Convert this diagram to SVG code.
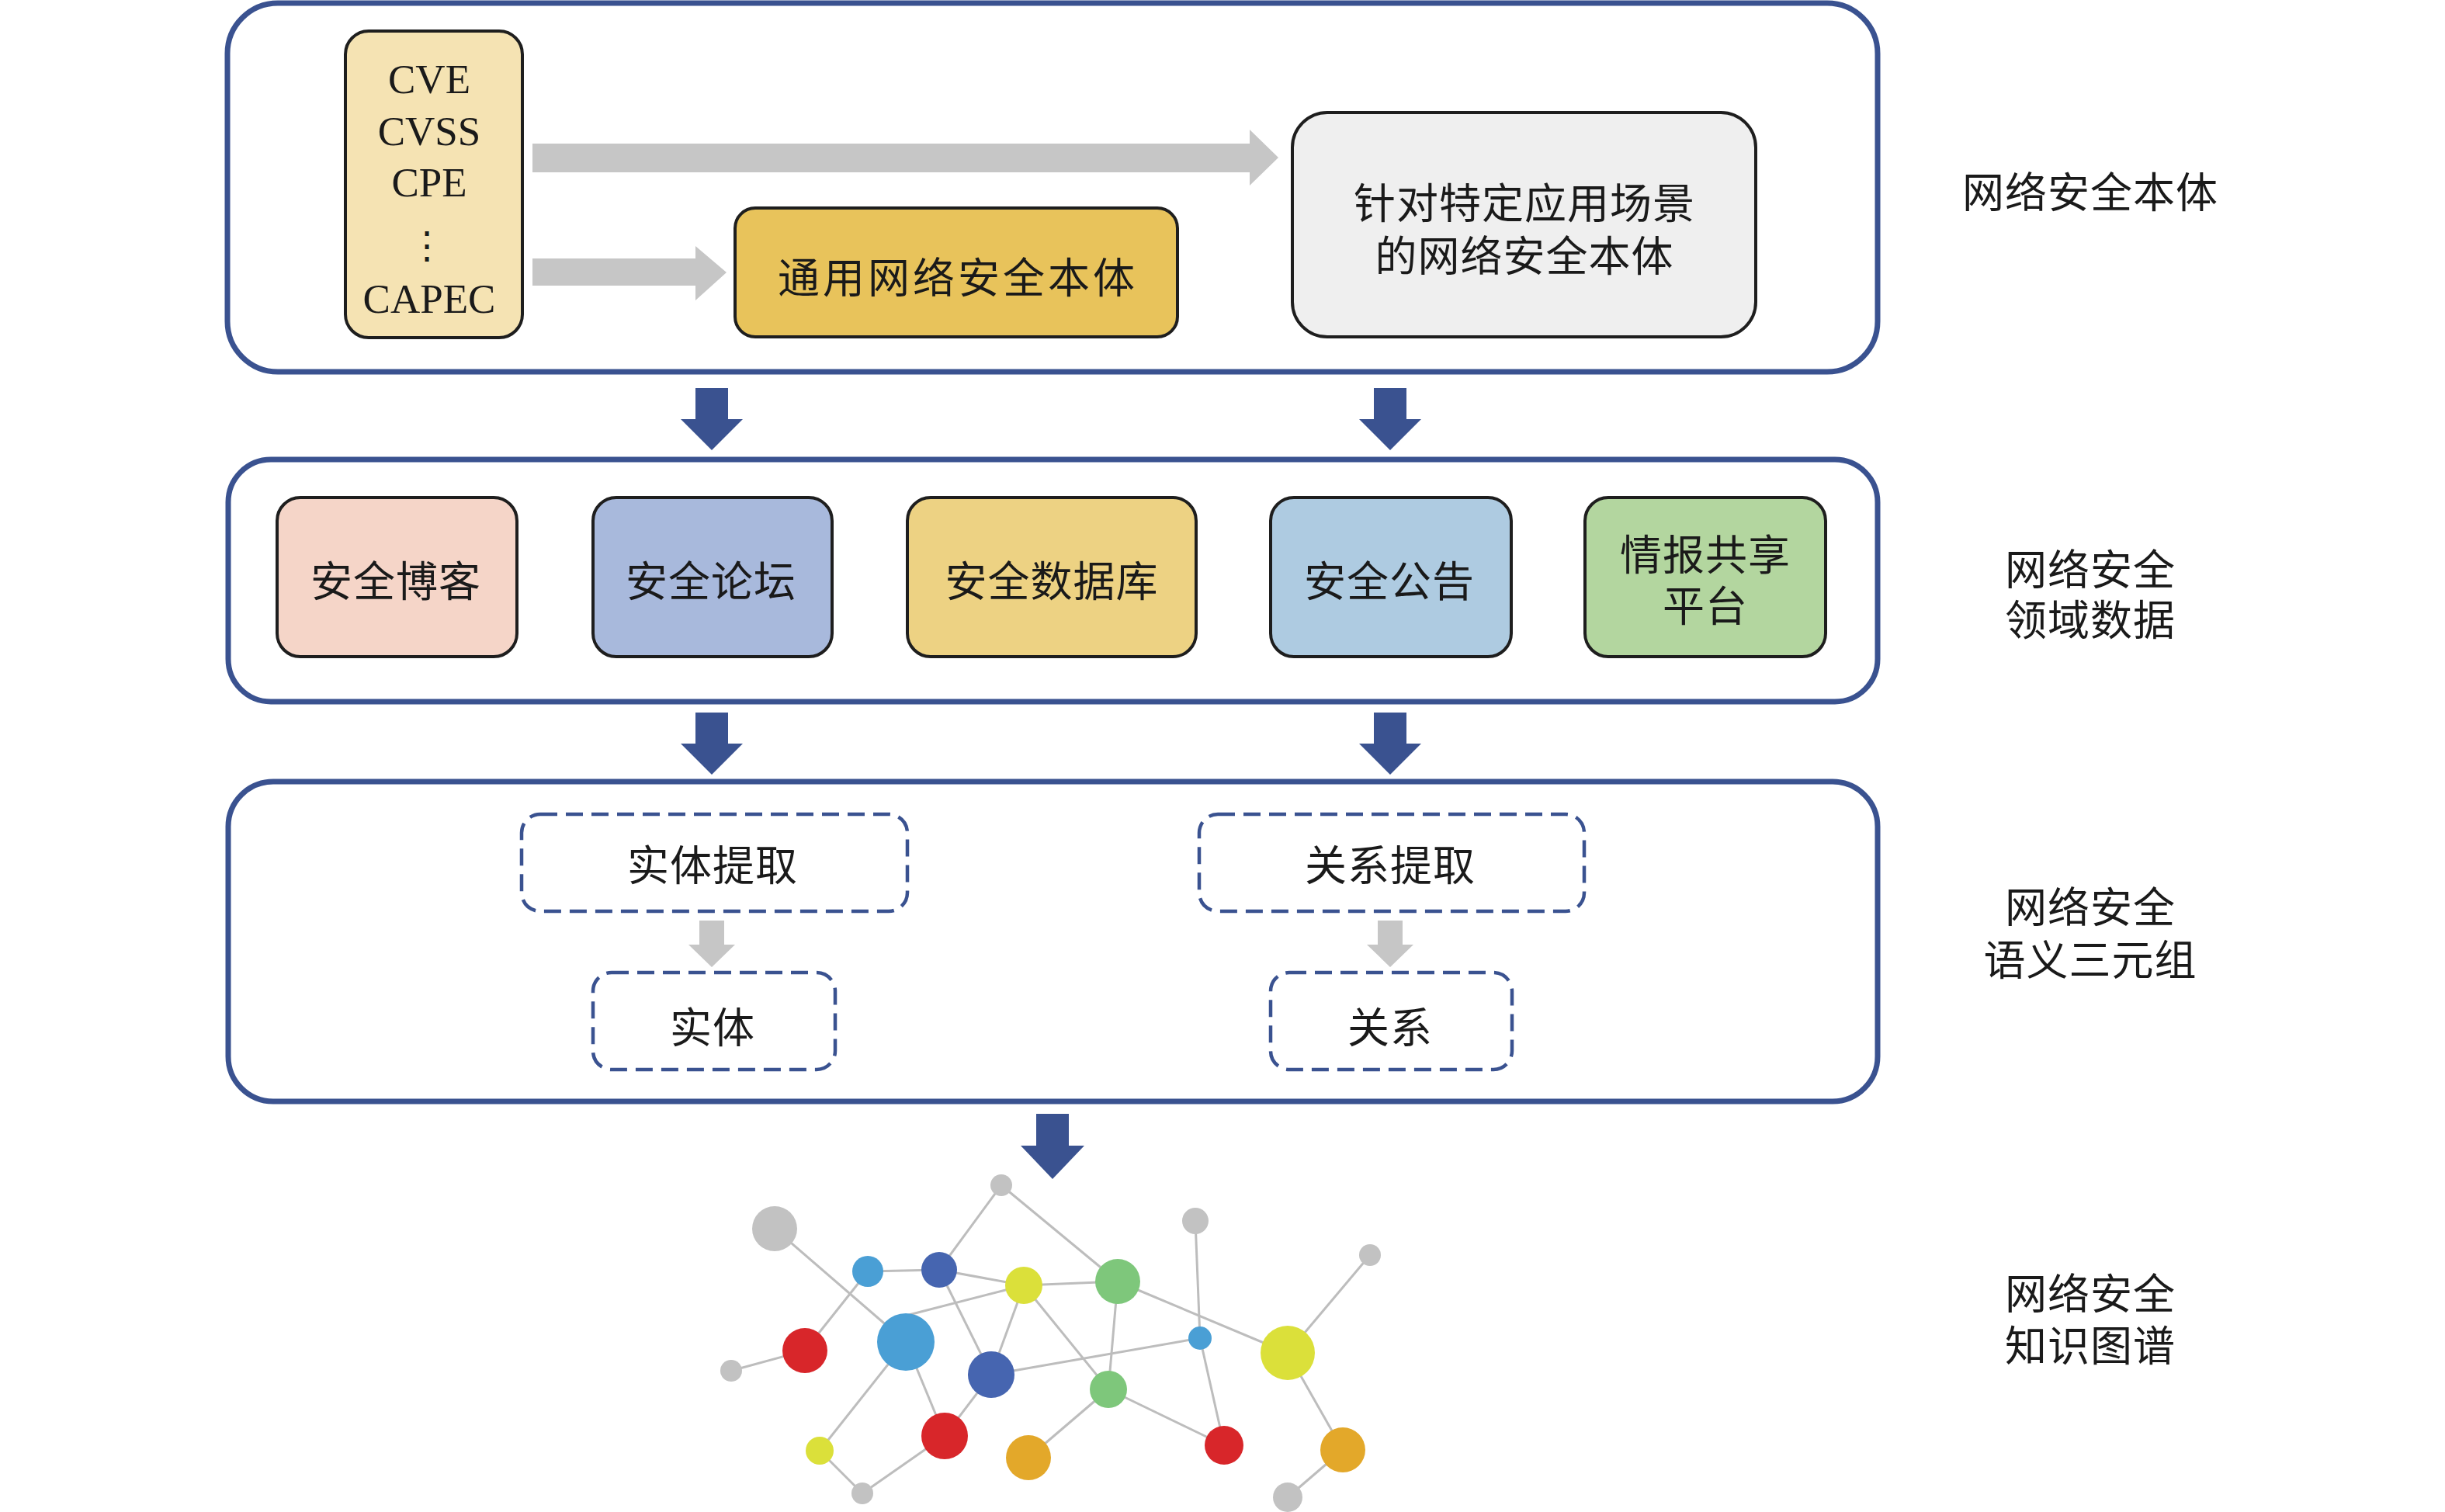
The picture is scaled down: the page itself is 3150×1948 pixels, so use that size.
<svg xmlns="http://www.w3.org/2000/svg" width="3150" height="1948" viewBox="0 0 3150 1948">
<style>
.cont{fill:none;stroke:#3a5290;stroke-width:7}
.box{stroke:#1e1e1e;stroke-width:4}
.dash{fill:#fff;stroke:#3a5290;stroke-width:4.5;stroke-dasharray:22 11}
.cn{font-family:"Liberation Sans","Noto Sans CJK SC","Noto Sans CJK JP",sans-serif;font-size:54px;fill:#1a1a1a;text-anchor:middle;dominant-baseline:central;letter-spacing:1px}
.en{font-family:"Liberation Serif",serif;font-size:53px;fill:#1a1a1a;text-anchor:middle}
.barr{fill:#3a5290}
.garr{fill:#c6c6c6}
.edge{stroke:#bdbdbd;stroke-width:3;fill:none}
.g{fill:#c2c2c2}.lb{fill:#4a9fd5}.db{fill:#4665b0}.ye{fill:#dbe03a}.gr{fill:#7ec77b}.rd{fill:#d8262a}.or{fill:#e3a82a}
</style>
<rect width="3150" height="1948" fill="#fff"/>

<g id="containers">
<rect id="layer-ontology" class="cont" x="293" y="4" width="2126" height="475" rx="65"/>
<rect id="layer-data" class="cont" x="294" y="592" width="2125" height="312" rx="55"/>
<rect id="layer-triples" class="cont" x="294" y="1007" width="2125" height="412" rx="58"/>
</g>

<g id="connectors">
<polygon class="garr" points="686,185 1610,185 1610,167 1647,203 1610,239 1610,222 686,222"/>
<polygon class="garr" points="686,333 896,333 896,317 936,351 896,387 896,368 686,368"/>
<polygon class="barr" points="896,500 938,500 938,540 957,540 917,580 877,540 896,540"/>
<polygon class="barr" points="1770,500 1812,500 1812,540 1831,540 1791,580 1751,540 1770,540"/>
<polygon class="barr" points="896,918 938,918 938,958 957,958 917,998 877,958 896,958"/>
<polygon class="barr" points="1770,918 1812,918 1812,958 1831,958 1791,998 1751,958 1770,958"/>
<polygon class="garr" points="901,1186 933,1186 933,1217 947,1217 917,1246 887,1217 901,1217"/>
<polygon class="garr" points="1775,1186 1807,1186 1807,1217 1821,1217 1791,1246 1761,1217 1775,1217"/>
<polygon class="barr" points="1335,1435 1377,1435 1377,1476 1397,1476 1356,1519 1315,1476 1335,1476"/>
</g>

<g id="node-standards">
<rect class="box" x="445" y="40" width="228" height="395" rx="30" fill="#f5e3b3"/>
<text class="en" x="553" y="120">CVE</text>
<text class="en" x="553" y="187">CVSS</text>
<text class="en" x="553" y="253">CPE</text>
<text class="en" x="550" y="333" style="font-family:'DejaVu Serif',serif;font-size:48px">⋮</text>
<text class="en" x="553" y="403">CAPEC</text>
</g>

<g id="node-general-ontology">
<rect class="box" x="947" y="268" width="570" height="166" rx="26" fill="#e8c35b"/>
<text class="cn" x="1234" y="359" style="letter-spacing:4px">通用网络安全本体</text>
</g>

<g id="node-specific-ontology">
<rect class="box" x="1665" y="145" width="597" height="289" rx="45" fill="#efefef"/>
<text class="cn" x="1964" y="263">针对特定应用场景<tspan x="1964" dy="68">的网络安全本体</tspan></text>
</g>

<g id="node-blog">
<rect class="box" x="357" y="641" width="309" height="205" rx="30" fill="#f5d5c8"/>
<text class="cn" x="510" y="750">安全博客</text>
</g>
<g id="node-forum">
<rect class="box" x="764" y="641" width="308" height="205" rx="30" fill="#a8b9dc"/>
<text class="cn" x="916" y="750">安全论坛</text>
</g>
<g id="node-database">
<rect class="box" x="1169" y="641" width="372" height="205" rx="30" fill="#edd283"/>
<text class="cn" x="1355" y="750">安全数据库</text>
</g>
<g id="node-bulletin">
<rect class="box" x="1637" y="641" width="310" height="205" rx="30" fill="#aecbe1"/>
<text class="cn" x="1790" y="750">安全公告</text>
</g>
<g id="node-intel">
<rect class="box" x="2042" y="641" width="310" height="205" rx="30" fill="#b3d69f"/>
<text class="cn" x="2197" y="716">情报共享<tspan x="2197" dy="66">平台</tspan></text>
</g>

<g id="node-entity-extraction">
<rect class="dash" x="672" y="1049" width="497" height="125" rx="24"/>
<text class="cn" x="918" y="1116">实体提取</text>
</g>
<g id="node-entity">
<rect class="dash" x="764" y="1253" width="312" height="125" rx="24"/>
<text class="cn" x="918" y="1325">实体</text>
</g>
<g id="node-relation-extraction">
<rect class="dash" x="1545" y="1049" width="496" height="125" rx="24"/>
<text class="cn" x="1791" y="1116">关系提取</text>
</g>
<g id="node-relation">
<rect class="dash" x="1637" y="1253" width="311" height="125" rx="24"/>
<text class="cn" x="1791" y="1325">关系</text>
</g>

<g id="labels">
<text class="cn" x="2693" y="249">网络安全本体</text>
<text class="cn" x="2693" y="735">网络安全<tspan x="2693" dy="65">领域数据</tspan></text>
<text class="cn" x="2693" y="1170">网络安全<tspan x="2693" dy="68">语义三元组</tspan></text>
<text class="cn" x="2693" y="1668">网络安全<tspan x="2693" dy="67">知识图谱</tspan></text>
</g>

<g id="knowledge-graph">
<g id="kg-edges">
<line class="edge" x1="998" y1="1583" x2="1167" y2="1729"/>
<line class="edge" x1="1118" y1="1638" x2="1210" y2="1636"/>
<line class="edge" x1="1118" y1="1638" x2="1037" y2="1740"/>
<line class="edge" x1="1210" y1="1636" x2="1290" y2="1527"/>
<line class="edge" x1="1290" y1="1527" x2="1440" y2="1651"/>
<line class="edge" x1="1210" y1="1636" x2="1319" y2="1656"/>
<line class="edge" x1="1319" y1="1656" x2="1440" y2="1651"/>
<line class="edge" x1="1167" y1="1695" x2="1319" y2="1656"/>
<line class="edge" x1="1210" y1="1636" x2="1277" y2="1771"/>
<line class="edge" x1="1319" y1="1656" x2="1277" y2="1771"/>
<line class="edge" x1="1319" y1="1656" x2="1428" y2="1790"/>
<line class="edge" x1="1440" y1="1651" x2="1428" y2="1790"/>
<line class="edge" x1="1440" y1="1651" x2="1659" y2="1743"/>
<line class="edge" x1="1540" y1="1573" x2="1546" y2="1724"/>
<line class="edge" x1="1277" y1="1771" x2="1546" y2="1724"/>
<line class="edge" x1="1546" y1="1724" x2="1577" y2="1862"/>
<line class="edge" x1="1428" y1="1790" x2="1577" y2="1862"/>
<line class="edge" x1="1428" y1="1790" x2="1325" y2="1878"/>
<line class="edge" x1="1765" y1="1617" x2="1659" y2="1743"/>
<line class="edge" x1="1659" y1="1743" x2="1730" y2="1868"/>
<line class="edge" x1="1730" y1="1868" x2="1659" y2="1929"/>
<line class="edge" x1="1037" y1="1740" x2="942" y2="1766"/>
<line class="edge" x1="1167" y1="1729" x2="1217" y2="1850"/>
<line class="edge" x1="1277" y1="1771" x2="1217" y2="1850"/>
<line class="edge" x1="1167" y1="1729" x2="1056" y2="1869"/>
<line class="edge" x1="1056" y1="1869" x2="1111" y2="1924"/>
<line class="edge" x1="1111" y1="1924" x2="1217" y2="1850"/>
</g>
<g id="kg-nodes">
<circle class="g" cx="1290" cy="1527" r="14"/>
<circle class="g" cx="998" cy="1583" r="29"/>
<circle class="lb" cx="1118" cy="1638" r="20"/>
<circle class="db" cx="1210" cy="1636" r="23"/>
<circle class="ye" cx="1319" cy="1656" r="24"/>
<circle class="gr" cx="1440" cy="1651" r="29"/>
<circle class="g" cx="1540" cy="1573" r="17"/>
<circle class="g" cx="1765" cy="1617" r="14"/>
<circle class="rd" cx="1037" cy="1740" r="29"/>
<circle class="lb" cx="1167" cy="1729" r="37"/>
<circle class="g" cx="942" cy="1766" r="14"/>
<circle class="db" cx="1277" cy="1771" r="30"/>
<circle class="lb" cx="1546" cy="1724" r="15"/>
<circle class="ye" cx="1659" cy="1743" r="35"/>
<circle class="gr" cx="1428" cy="1790" r="24"/>
<circle class="rd" cx="1217" cy="1850" r="30"/>
<circle class="ye" cx="1056" cy="1869" r="18"/>
<circle class="or" cx="1325" cy="1878" r="29"/>
<circle class="rd" cx="1577" cy="1862" r="25"/>
<circle class="or" cx="1730" cy="1868" r="29"/>
<circle class="g" cx="1111" cy="1924" r="14"/>
<circle class="g" cx="1659" cy="1929" r="19"/>
</g>
</g>
</svg>
